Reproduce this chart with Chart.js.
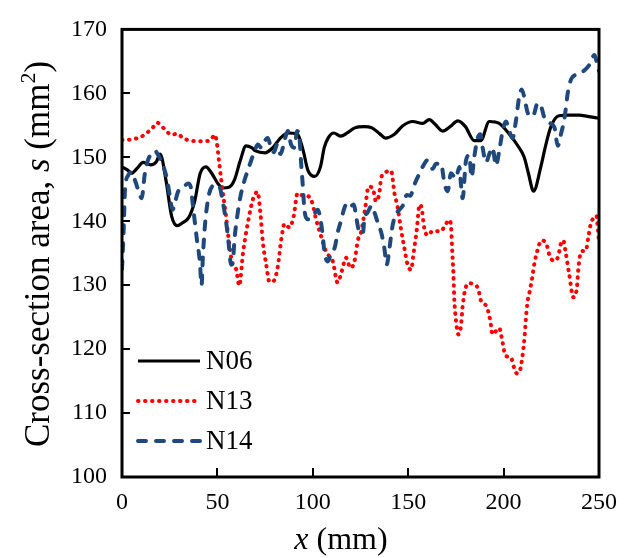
<!DOCTYPE html>
<html>
<head>
<meta charset="utf-8">
<script src="https://cdn.jsdelivr.net/npm/chart.js@4.4.0/dist/chart.umd.min.js"></script>
<style>
	html, body { margin: 0; padding: 0; background: #fff; }
	canvas { display: block; }
</style>
</head>
<body>
<canvas id="areaChart" width="635" height="558"></canvas>
<script>
// series names
var seriesNames = ['N06', 'N13', 'N14'];

// N06 (solid black)
var n06X = [0,3,5,8,11,15,18,20,23,26,29,32,35,38,41,44,47,50,53,56,59,62,65,68,70,75,79,83,87,92,95,97.4,101,104,106,108,111,114.7,118,122,127,131,135,138,142.8,147,152.4,157.6,161,164,168,172,176,180,184.6,188,192.5,197.7,203,207,210.8,213,215.7,219.5,222,224.8,229,234,239.6,244,250];
var n06Y = [148.5,148,147.5,148.3,149.2,148.8,149.3,150.5,146.5,140.8,139.3,139.8,140.6,143,147.5,148.5,147.5,146,145.2,145.3,146.5,149.5,151.8,151.5,151,150.7,151.5,153,153.8,153.6,151,148,147,148.5,151.5,153,153.8,153.3,153.8,154.6,154.8,154.6,153.7,153,153.6,154.9,155.6,155.3,155.9,155.2,154.1,154.8,155.7,154.8,152.6,152.6,155.6,155.3,153.6,152,150,147.5,144.7,148.5,151.8,154.8,156.5,156.6,156.6,156.4,156.1];

// N13 (red dotted)
var n13X = [0,5,10,13,16,18.5,21,23,26,29,32,36,41,46,48.7,49.6,51,52.2,54.5,56.5,58,59.8,61.5,63.4,66,68.6,71,72.5,73.8,75.6,77.3,79.6,81.7,83.4,85.2,87.8,90,92,93.9,97.7,100,101.7,104,107,110.5,113,115.2,117.4,119.7,121.8,123.6,125.3,127.4,129.2,131.4,133.1,134.9,135.8,137.9,141,142.8,144.5,146.2,148,149.7,151.5,152.9,154.6,155.9,157,158.5,160.5,162.8,167,169.8,171.6,172.5,173,173.7,174.2,175,176.3,177.6,178.5,179.7,181.5,183.8,186.7,188.1,191.2,193,194.2,197.7,199.5,200.9,203.8,205.6,207,208.4,209.8,211,211.9,212.8,213.6,215,216.2,217.8,219.8,222.5,224,226.5,228.6,230,231.3,232.6,234.4,236.6,238.4,239.3,240.8,243.1,244.3,245.7,247.4,248.6,249.5,250];
var n13Y = [152.7,152.8,153.2,153.8,154.6,155.4,154.8,154.2,153.5,153.7,153,152.6,152.5,152.6,153.5,152.5,149,146,140.8,135.8,133.2,132.5,129.9,135,139.8,143.4,144.6,141.4,136.8,133.2,130.5,130.7,133,137,139.6,139,140.8,144.4,144.1,143.9,142.6,140.3,138,135.2,133.7,130.4,132.2,134.3,132.7,133.7,137,138.3,141.9,145.4,145.2,143.1,144.4,146.7,147.6,147.9,144.4,142.1,138.8,135.8,133.2,132.4,135.2,139,142.6,142.1,138.8,137.8,138.5,138.4,139.6,140.2,139,135.8,131.7,127.6,124.6,122.3,123.5,126.6,129.1,130.3,130.2,129.4,127.6,126.6,124.5,122.3,123.3,121,119,118.7,117,116.2,116.5,118.7,122,125.6,127.9,128.9,131.2,133.5,135.5,137,136.4,134.7,133.8,134.5,136.5,137,135,131.7,128.1,129.6,133,135.3,135.4,137.3,139.6,140.6,140.9,138.5,136.7];

// N14 (blue dashed)
var n14X = [0,0.8,1.6,3.3,5,6.8,8.5,10.3,12,13.8,15.5,17.3,19,21.6,23.7,25.1,26.5,27.7,29.5,31.8,34.7,36,37,38.2,39.4,40.8,41.7,42.4,43.6,45.4,47.1,49.4,51.1,52.9,54.6,55.8,57.2,58.1,59,60.4,62.1,64.2,66,67.7,69.5,71.2,73,74.7,76.4,77.8,79.6,81.3,83,85.5,86.9,88.6,90.4,91.8,93,93.9,94.8,95.6,97.4,100,102.6,104,105.2,106.1,107.9,109.6,111.4,113.1,114.8,116.6,118.3,120,121.5,122.7,123.9,125,126.2,127,128.8,130.9,132.3,134,135.8,137.5,138.7,140.2,141.5,143.1,145.4,147.1,149.3,151.1,153.2,155,156.7,158.5,159.7,161.1,162.8,164.6,167.2,169,170.7,172.4,175,176.8,177.6,178.5,180.3,182,183.2,184.6,186.4,187.8,189,190.8,192.5,194.2,196,197.7,199.5,201.2,203,204.7,206.4,208.2,209.5,211,212.7,215.3,217.9,219.7,221.5,224,226.7,228.4,230.2,231.9,233.7,235.4,238.9,242.4,245,247.6,249.4,250];
var n14Y = [132.5,138,145,147.2,147.7,146.4,144.9,143.6,147.5,149.7,150.5,151,150.3,148.7,146.4,143.9,141.8,142.9,144.7,145.2,145.9,145.4,142.9,139.8,136.8,133.7,130,134.5,139.8,143.9,145.4,145.7,145.4,142.9,139.8,136.8,133.2,133.7,137.3,140.8,143.9,146.4,148,149.5,151,152,151.5,152.5,153,151.8,150.8,152,150.5,153,154.1,152,151.5,154.1,153,149,145.4,141.8,140.3,140.8,141.8,140.3,137.8,135.2,133.7,135,135.8,138.3,140.1,142.1,142.9,142.4,142.6,140.8,138.8,138.3,138,140.3,141.4,142.4,141.4,139.8,138.3,135.8,133.2,135.8,138.8,140.8,141.8,142.4,144.1,144,145.7,146.9,148,149,149.5,148.7,148.2,149,149,145.9,144.7,147.5,146.7,148.5,145.9,143.6,149.5,150.3,146.9,150,153,153.6,151.5,149.2,150.5,151.5,148.7,151,154.1,155.6,154.1,153,155.6,159.5,160.6,159.2,156.9,156.4,158.5,157.9,156.1,155.4,154.6,151.8,153.8,156.1,160.2,162.2,163,163.6,164.5,166,164,163.5];

// axis ticks
var xTicks = [0, 50, 100, 150, 200, 250];
var yTicks = [100, 110, 120, 130, 140, 150, 160, 170];

var serif = "'Liberation Serif', 'Times New Roman', serif";
Chart.defaults.font.family = serif;
Chart.defaults.color = '#000';

function toPoints(xs, ys) {
	var pts = [];
	for(var i = 0; i < xs.length; i++) {
		pts.push({ x: xs[i], y: ys[i] });
	}
	return pts;
}

// draws text pieces with mixed styles, centred on (cx, cy)
function drawRich(ctx, parts, cx, cy, size) {
	var total = 0;
	parts.forEach(function(p) {
		p.fs = p.sup ? Math.round(size * 0.62) : size;
		ctx.font = (p.italic ? 'italic ' : '') + p.fs + 'px ' + serif;
		p.w = ctx.measureText(p.t).width;
		total += p.w;
	});
	var x = cx - total / 2;
	ctx.textBaseline = 'middle';
	ctx.textAlign = 'left';
	parts.forEach(function(p) {
		ctx.font = (p.italic ? 'italic ' : '') + p.fs + 'px ' + serif;
		ctx.fillText(p.t, x, p.sup ? cy - size * 0.3 : cy);
		x += p.w;
	});
}

var framePlugin = {
	id: 'frame',
	afterDatasetsDraw: function(chart) {
		var ctx = chart.ctx;
		var a = chart.chartArea;
		var xs = chart.scales.x, ys = chart.scales.y;
		ctx.save();
		ctx.strokeStyle = '#000';
		ctx.lineWidth = 3;
		ctx.strokeRect(a.left, a.top, a.right - a.left, a.bottom - a.top);
		ctx.lineWidth = 2;
		ctx.beginPath();
		xTicks.forEach(function(v) {
			var px = Math.round(xs.getPixelForValue(v));
			ctx.moveTo(px, a.bottom);
			ctx.lineTo(px, a.bottom - 9);
		});
		yTicks.forEach(function(v) {
			var py = Math.round(ys.getPixelForValue(v));
			ctx.moveTo(a.left, py);
			ctx.lineTo(a.left + 8, py);
		});
		ctx.stroke();
		ctx.restore();
	},
	afterDraw: function(chart) {
		var ctx = chart.ctx;
		ctx.save();
		ctx.fillStyle = '#000';
		// legend inside plot, bottom left
		chart.data.datasets.forEach(function(ds, i) {
			var y = 361 + i * 40;
			ctx.beginPath();
			ctx.strokeStyle = ds.borderColor;
			ctx.lineWidth = ds.borderWidth;
			ctx.lineCap = ds.borderCapStyle || 'butt';
			ctx.setLineDash(ds.borderDash || []);
			ctx.moveTo(138, y);
			ctx.lineTo(200, y);
			ctx.stroke();
			ctx.setLineDash([]);
			ctx.font = '27px ' + serif;
			ctx.textAlign = 'left';
			ctx.textBaseline = 'middle';
			ctx.fillText(ds.label, 206, y + 1);
		});
		// x title
		drawRich(ctx, [{ t: 'x', italic: true }, { t: ' (mm)' }], 341, 541, 32);
		// y title
		ctx.translate(40, 254);
		ctx.rotate(-Math.PI / 2);
		drawRich(ctx, [{ t: 'Cross-section area, ' }, { t: 's', italic: true }, { t: ' (mm' }, { t: '2', sup: true }, { t: ')' }], 0, 0, 35);
		ctx.restore();
	}
};

var chart = new Chart(document.getElementById('areaChart').getContext('2d'), {
	type: 'scatter',
	data: {
		datasets: [{
			label: seriesNames[0],
			data: toPoints(n06X, n06Y),
			borderColor: '#000000',
			borderWidth: 3.2,
			order: 3
		}, {
			label: seriesNames[1],
			data: toPoints(n13X, n13Y),
			borderColor: '#FF0000',
			borderWidth: 4,
			borderDash: [0.5, 6.5],
			borderCapStyle: 'round',
			order: 2
		}, {
			label: seriesNames[2],
			data: toPoints(n14X, n14Y),
			borderColor: '#1F497D',
			borderWidth: 4,
			borderDash: [8, 10],
			borderCapStyle: 'round',
			order: 1
		}]
	},
	options: {
		responsive: false,
		animation: false,
		devicePixelRatio: 1,
		showLine: true,
		elements: {
			point: { radius: 0, hoverRadius: 0 },
			line: { cubicInterpolationMode: 'monotone', fill: false }
		},
		layout: { padding: { top: 19, right: 36, left: 0, bottom: 0 } },
		plugins: {
			legend: { display: false },
			tooltip: { enabled: false }
		},
		scales: {
			x: {
				type: 'linear',
				min: 0,
				max: 250,
				afterFit: function(s) { s.height = 81; },
				afterBuildTicks: function(s) { s.ticks = xTicks.map(function(v) { return { value: v }; }); },
				grid: { display: false, drawTicks: false },
				border: { display: false },
				ticks: { font: { size: 24 }, padding: 11, maxRotation: 0 }
			},
			y: {
				type: 'linear',
				min: 100,
				max: 170,
				afterFit: function(s) { s.width = 122; },
				afterBuildTicks: function(s) { s.ticks = yTicks.map(function(v) { return { value: v }; }); },
				grid: { display: false, drawTicks: false },
				border: { display: false },
				ticks: { font: { size: 24 }, padding: 15 }
			}
		}
	},
	plugins: [framePlugin]
});
</script>
</body>
</html>
